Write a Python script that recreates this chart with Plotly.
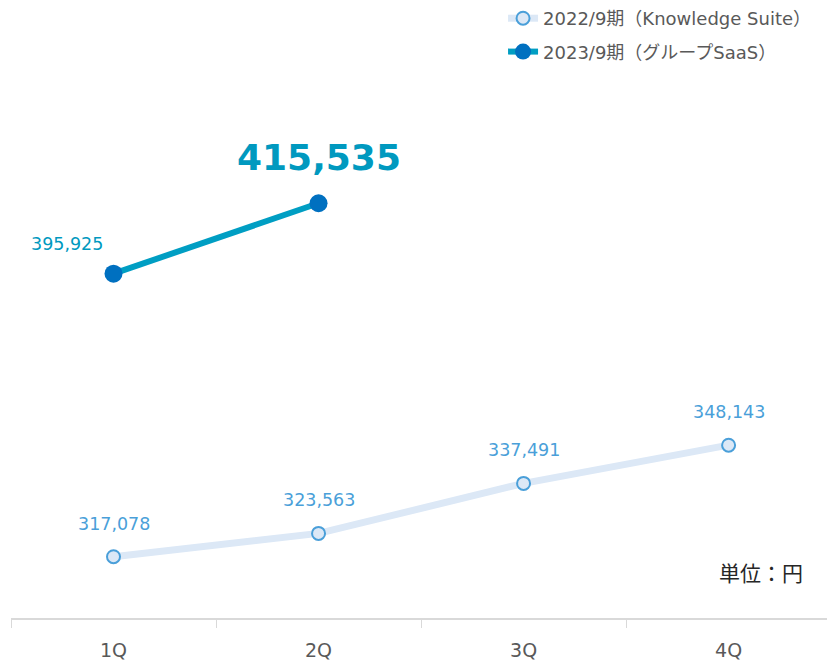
import plotly.graph_objects as go

categories = ["1Q", "2Q", "3Q", "4Q"]
fy2022_name = "2022/9期（Knowledge Suite）"
fy2022_values = [317078, 323563, 337491, 348143]
fy2023_name = "2023/9期（グループSaaS）"
fy2023_values = [395925, 415535]
unit_label = "単位：円"

FONT = "Verdana, DejaVu Sans, Noto Sans CJK JP"
CJK = "Noto Sans CJK JP"

fig = go.Figure()
fig.add_trace(go.Scatter(
    x=categories, y=fy2022_values, name=fy2022_name, mode="lines+markers",
    line=dict(color="#dce8f6", width=7),
    marker=dict(size=13, color="#dce8f6", line=dict(color="#4a9fd9", width=2)),
    legendgroup="a", hoverinfo="skip",
))
fig.add_trace(go.Scatter(
    x=categories[:len(fy2023_values)], y=fy2023_values, name=fy2023_name, mode="lines+markers",
    line=dict(color="#009ec3", width=6),
    marker=dict(size=18, color="#0070c0"),
    legendgroup="b", hoverinfo="skip",
))

annotations = []
for c, v in zip(categories, fy2022_values):
    annotations.append(dict(x=c, y=v, text=f"{v:,}", showarrow=False, yshift=33,
                            font=dict(family=FONT, size=17.5, color="#4a9fd9")))
annotations.append(dict(x=categories[0], y=fy2023_values[0], text=f"{fy2023_values[0]:,}",
                        showarrow=False, xshift=-47, yshift=30,
                        font=dict(family=FONT, size=17.5, color="#0099bf")))
annotations.append(dict(x=categories[1], y=fy2023_values[1], text=f"<b>{fy2023_values[1]:,}</b>",
                        showarrow=False, yshift=46,
                        font=dict(family=FONT, size=36, color="#0099bf")))
annotations.append(dict(xref="paper", yref="paper", x=0.973, y=0.0744,
                        xanchor="right", yanchor="middle",
                        text=unit_label, showarrow=False,
                        font=dict(family=CJK, size=21, color="#262626")))

fig.update_layout(
    width=827, height=663,
    margin=dict(l=11, r=0, t=0, b=45),
    paper_bgcolor="white", plot_bgcolor="white",
    font=dict(family=FONT, color="#595959", size=16),
    xaxis=dict(range=[-0.5, 3.48], showgrid=False, zeroline=False,
               showline=True, linecolor="#d9d9d9", linewidth=2,
               ticks="outside", tickson="boundaries", ticklen=8, tickcolor="#d9d9d9",
               ticklabelstandoff=14,
               tickfont=dict(size=19, color="#595959")),
    yaxis=dict(range=[300000, 471600], visible=False, showgrid=False, zeroline=False),
    legend=dict(x=0.603, y=1.004, xanchor="left", yanchor="top", tracegroupgap=7,
                font=dict(family=FONT, size=18, color="#595959"),
                bgcolor="rgba(0,0,0,0)"),
    annotations=annotations,
    showlegend=True,
)

fig.write_html("out.html", config={"displayModeBar": False},
               post_script="document.body.style.margin='0';")
